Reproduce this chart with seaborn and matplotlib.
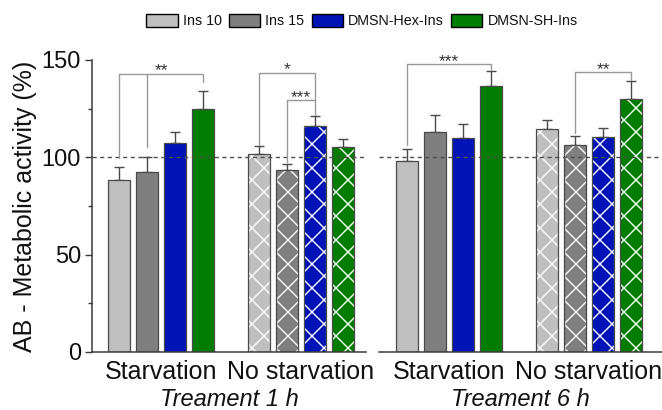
import numpy as np
import pandas as pd
import seaborn as sns
import matplotlib.pyplot as plt
from matplotlib.patches import Patch


formulations = ["Ins 10", "Ins 15", "DMSN-Hex-Ins", "DMSN-SH-Ins"]
conditions = ["Starvation", "No starvation"]
treatments = ["Treament 1 h", "Treament 6 h"]
colors = ["#bfbfbf", "#7f7f7f", "#0014b6", "#007d00"]

# mean values, order: formulations, per condition
mean_1h_starv = [88.3, 92.3, 107.2, 124.6]
mean_1h_nostarv = [101.5, 93.5, 116.2, 105.5]
mean_6h_starv = [98.1, 113.0, 109.8, 136.6]
mean_6h_nostarv = [114.4, 106.1, 110.6, 129.8]

# upper error (SD)
err_1h_starv = [6.5, 7.7, 5.6, 9.6]
err_1h_nostarv = [4.1, 3.1, 4.8, 3.7]
err_6h_starv = [6.1, 8.7, 7.5, 7.7]
err_6h_nostarv = [4.6, 4.7, 4.6, 9.4]

# significance brackets: panel, condition, bars (hue idx), top, leg bottoms, label
brackets = [
    (0, 0, [0, 1, 3], 142.8, [99.6, 105.3, 138.7], "**"),
    (0, 1, [0, 2], 143.3, [106.3, 129.4], "*"),
    (0, 1, [1, 2], 129.4, [97.5, 121.7], "***"),
    (1, 0, [0, 3], 147.9, [106.3, 144.8], "***"),
    (1, 1, [1, 3], 143.8, [112.5, 139.7], "**"),
]

# drawn at 72 dpi so the hatch cell is ~12 px like the original;
# S converts the sizes tuned at 100 dpi
DPI = 72
S = 100 / DPI


def make_frame(treat, starv, nostarv, e_starv, e_nostarv):
    rows = []
    for cond, vals, errs in [(conditions[0], starv, e_starv), (conditions[1], nostarv, e_nostarv)]:
        for f, v, e in zip(formulations, vals, errs):
            rows.append({"treatment": treat, "condition": cond, "formulation": f, "value": v, "err": e})
    return pd.DataFrame(rows)


frames = [
    make_frame(treatments[0], mean_1h_starv, mean_1h_nostarv, err_1h_starv, err_1h_nostarv),
    make_frame(treatments[1], mean_6h_starv, mean_6h_nostarv, err_6h_starv, err_6h_nostarv),
]

sns.set_theme(style="white")
plt.rcParams["font.family"] = ["Liberation Sans", "DejaVu Sans"]
plt.rcParams["hatch.linewidth"] = 1.0 * S
for key in ["text.color", "axes.labelcolor", "xtick.labelcolor", "ytick.labelcolor"]:
    plt.rcParams[key] = "#111111"

fig = plt.figure(figsize=(662 / DPI, 410 / DPI), dpi=DPI)
ax1 = fig.add_axes([92 / 662, 58 / 410, 274 / 662, 292 / 410])
ax2 = fig.add_axes([379 / 662, 58 / 410, 283 / 662, 292 / 410])
axes = [ax1, ax2]
xlims = [(-0.493, 1.464), (-0.5, 1.521)]
spine_col = "#3a3a3a"

for k, (ax, df) in enumerate(zip(axes, frames)):
    sns.barplot(
        data=df, x="condition", y="value", hue="formulation",
        order=conditions, hue_order=formulations, palette=colors, saturation=1,
        width=0.8, gap=0.21, errorbar=None, edgecolor="#4a4a4a",
        linewidth=0.9 * S, legend=False, ax=ax, zorder=2,
    )
    bar_conts = list(ax.containers)
    for i, cont in enumerate(bar_conts):
        sub = df[df["formulation"] == formulations[i]].set_index("condition").loc[conditions]
        xs = [b.get_x() + b.get_width() / 2 for b in cont]
        ax.errorbar(xs, sub["value"].values, yerr=[np.zeros(len(xs)), sub["err"].values],
                    fmt="none", ecolor="#4a4a4a", elinewidth=1.0 * S, capsize=3.5 * S,
                    capthick=1.0 * S, zorder=1)
        for j, b in enumerate(cont):
            if j == 1:
                b.set_hatch("x")
                b._hatch_color = (1, 1, 1, 1)

    ax.axhline(100, color="#505050", ls=(0, (3, 2.5)), lw=1.0 * S, zorder=3)
    ax.set_ylim(0, 150)
    ax.set_xlim(*xlims[k])
    ax.set_ylabel("")
    ax.set_xlabel(treatments[k], fontsize=17 * S, style="italic", labelpad=2.5 * S)
    ax.tick_params(axis="x", length=0, pad=6 * S, labelsize=18 * S)
    for s in ["top", "right"]:
        ax.spines[s].set_visible(False)
    ax.spines["bottom"].set_color(spine_col)
    ax.spines["bottom"].set_linewidth(1.1 * S)

    # brackets
    for panel, cond, idxs, top, bottoms, label in brackets:
        if panel != k:
            continue
        xs = []
        for hi, yb in zip(idxs, bottoms):
            b = bar_conts[hi][cond]
            x = b.get_x() + b.get_width() / 2
            xs.append(x)
            ax.plot([x, x], [yb, top], color="#9a9a9a", lw=1.0 * S, clip_on=False, zorder=4)
        ax.plot([min(xs), max(xs)], [top, top], color="#9a9a9a", lw=1.0 * S, clip_on=False, zorder=4)
        ax.text((min(xs) + max(xs)) / 2, top + 1.5, label, ha="center", va="center",
                fontsize=12.5 * S, color="#333333")

ax1.spines["left"].set_color(spine_col)
ax1.spines["left"].set_linewidth(1.1 * S)
ax1.set_yticks([0, 50, 100, 150])
ax1.set_yticks([25, 75, 125], minor=True)
ax1.tick_params(axis="y", which="major", left=True, length=5 * S, width=1 * S, color=spine_col,
                labelsize=17 * S, pad=3 * S)
ax1.tick_params(axis="y", which="minor", left=True, length=3 * S, width=1 * S, color=spine_col)
ax1.set_ylabel("AB - Metabolic activity (%)", fontsize=18 * S)
ax1.yaxis.set_label_coords(-0.2, 0.5)

ax2.spines["left"].set_visible(False)
ax2.set_yticks([])

handles = [Patch(facecolor=c, edgecolor="black", linewidth=1.0 * S) for c in colors]
fig.legend(handles, formulations, loc="center", bbox_to_anchor=(362 / 662, 1 - 21 / 410),
           ncol=4, frameon=False, handlelength=2.2, handleheight=1.0, handletextpad=0.35,
           columnspacing=0.5, prop={"size": 10.3 * S})

fig.savefig("out.png", dpi=DPI)
